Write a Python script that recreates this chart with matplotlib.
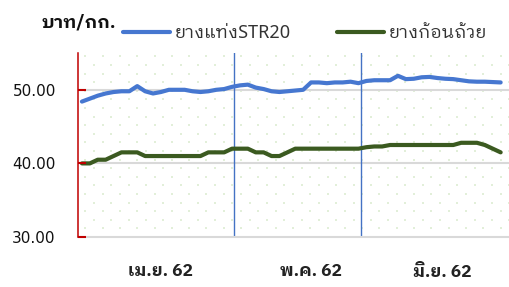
import numpy as np
import matplotlib
matplotlib.use("Agg")
import matplotlib.pyplot as plt
from matplotlib import font_manager

# ---- data ----
str20 = [48.4, 48.8, 49.2, 49.5, 49.7, 49.8, 49.8, 50.5, 49.8, 49.5,
         49.7, 50.0, 50.0, 50.0, 49.8, 49.7, 49.8, 50.0, 50.1, 50.4,
         50.6, 50.7, 50.3, 50.1, 49.8, 49.7, 49.8, 49.9, 50.0, 51.0,
         51.0, 50.9, 51.0, 51.0, 51.1, 50.9, 51.2, 51.3, 51.3, 51.3,
         51.9, 51.45, 51.5, 51.7, 51.75, 51.6, 51.5, 51.45, 51.3, 51.15,
         51.1, 51.1, 51.05, 51.0]
cup = [40.0, 40.0, 40.5, 40.5, 41.0, 41.5, 41.5, 41.5, 41.0, 41.0,
       41.0, 41.0, 41.0, 41.0, 41.0, 41.0, 41.5, 41.5, 41.5, 42.0,
       42.0, 42.0, 41.5, 41.5, 41.0, 41.0, 41.5, 42.0, 42.0, 42.0,
       42.0, 42.0, 42.0, 42.0, 42.0, 42.0, 42.2, 42.3, 42.3, 42.5,
       42.5, 42.5, 42.5, 42.5, 42.5, 42.5, 42.5, 42.5, 42.8, 42.8,
       42.8, 42.5, 42.0, 41.5]
series_names = ["ยางแท่งSTR20", "ยางก้อนถ้วย"]
months = ["เม.ย. 62", "พ.ค. 62", "มิ.ย. 62"]
month_centers = [9.9, 29.0, 45.6]
month_dividers = [19.24, 35.3]
yticks = [30, 40, 50]


# ---- font with Thai glyphs (needs a bold face too) ----
def is_bold(w):
    if isinstance(w, str):
        return w.lower() in ("bold", "heavy", "black", "semibold", "demibold")
    return w >= 600


bold_fams = {f.name for f in font_manager.fontManager.ttflist if is_bold(f.weight)}
thai = "DejaVu Sans"
for cand in ["Noto Sans Thai Looped", "IBM Plex Sans Thai Looped", "Sarabun",
             "Noto Sans Thai", "Bai Jamjuree", "Athiti"]:
    if cand in bold_fams:
        thai = cand
        break
plt.rcParams["font.family"] = ["Noto Sans", thai, "DejaVu Sans"]
thai_fam = [thai, "DejaVu Sans"]

W, H = 510, 287
fig = plt.figure(figsize=(W / 100, H / 100), dpi=100)
ax_l, ax_b, ax_w, ax_h = 78, 50, 432, 184
ax = fig.add_axes([ax_l / W, ax_b / H, ax_w / W, ax_h / H])

# dotted background pattern (staggered light green dots)
rows = np.arange(0, ax_h, 8.6)
dx, dy = [], []
for r, yp in enumerate(rows):
    start = -1.3 if r % 2 == 0 else 7.35
    xs = np.arange(start, ax_w, 17.3)
    xs = xs[xs > 2]
    dx.extend(xs / ax_w)
    dy.extend([yp / ax_h] * len(xs))
ax.scatter(dx, dy, s=2.6, marker="s", color="#e2efd9", linewidths=0,
           transform=ax.transAxes, zorder=0, clip_on=False)

x = np.arange(len(str20))
for yv in [40, 50]:
    ax.axhline(yv, color="#d9d9d9", lw=1.5, zorder=1)
for xv in month_dividers:
    ax.axvline(xv, color="#4472c4", lw=1.0, zorder=2)

ax.plot(x, str20, color="#4677d0", lw=3, solid_capstyle="round",
        label=series_names[0], zorder=3)
ax.plot(x, cup, color="#3b5a20", lw=3, solid_capstyle="round",
        label=series_names[1], zorder=3)

ax.set_xlim(-0.5, -0.5 + ax_w / 7.9)
ax.set_ylim(30, 55)
ax.set_yticks(yticks)
ax.set_yticklabels(["%.2f" % v for v in yticks], fontsize=11,
                   family="DejaVu Sans", color="#111111")
ax.tick_params(axis="y", direction="in", length=5.5, width=1.5,
               color="#c00000", pad=16)
ax.yaxis.set_zorder(5)
ax.set_xticks([])
for sp in ["top", "right"]:
    ax.spines[sp].set_visible(False)
ax.spines["left"].set_color("#c00000")
ax.spines["left"].set_linewidth(1.1)
ax.spines["left"].set_zorder(4)
ax.spines["bottom"].set_color("#d9d9d9")
ax.spines["bottom"].set_linewidth(1.5)
ax.set_facecolor("white")

for lab, xc in zip(months, month_centers):
    ax.text(xc, -0.19, lab, transform=ax.get_xaxis_transform(),
            ha="center", va="center", fontsize=12.5, fontweight="bold",
            family=thai_fam, color="#222222")

fig.text(42 / W, 1 - 22 / H, "บาท/กก.", ha="left", va="center",
         fontsize=13, fontweight="bold", family=thai_fam, color="#111111")

fig.legend(loc="center", bbox_to_anchor=(305 / W, 1 - 33 / H), ncol=2,
           frameon=False, fontsize=13, handlelength=2.6,
           handletextpad=0.25, columnspacing=2.6, borderaxespad=0,
           labelcolor="#333333")

fig.savefig("out.png", dpi=100)
